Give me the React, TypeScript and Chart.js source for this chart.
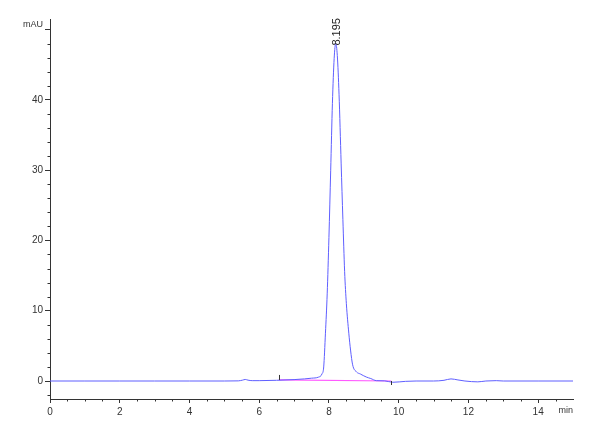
import React, { useEffect, useRef } from "react";
import { Chart, registerables } from "chart.js";

Chart.register(...registerables);

// Retention time (min) and absorbance (mAU) of the trace
const times = [
  0, 1, 2, 3, 4, 5, 5.4, 5.52, 5.6, 5.68, 5.8, 6.0, 6.5, 7.0, 7.3, 7.5, 7.7, 7.8,
  7.85, 7.9, 7.95, 8.0, 8.05, 8.1, 8.15, 8.195, 8.24, 8.29, 8.35, 8.4, 8.45, 8.5,
  8.57, 8.62, 8.68, 8.79, 8.9, 9.07, 9.2, 9.36, 9.6, 9.83, 10.2, 10.5, 11.0, 11.3,
  11.5, 11.7, 11.9, 12.27, 12.5, 12.8, 13, 14, 15,
];
const signal = [
  0, 0, 0, 0, 0, 0, 0.02, 0.12, 0.22, 0.12, 0.05, 0.05, 0.1, 0.2, 0.3, 0.4, 0.55, 1.0,
  2.0, 6.8, 12.4, 20.4, 29.9, 39.5, 45.9, 48.0, 46.3, 40.8, 31.0, 23.0, 15.6, 11.0,
  6.8, 4.4, 2.3, 1.3, 1.0, 0.57, 0.35, 0.05, 0.02, -0.18, -0.05, 0, 0, 0.1,
  0.3, 0.15, 0, -0.12, 0, 0.05, 0, 0, 0,
];

// Integration baseline of the main peak
const baseTimes = [6.56, 9.79];
const baseValues = [0.15, 0.0];

const peakTime = 8.195;
const peakHeight = 48.0;
const peakLabel = "8.195";

const xMajorTicks = [0, 2, 4, 6, 8, 10, 12, 14];
const yMajorTicks = [0, 10, 20, 30, 40, 50];
const yLabelled = [0, 10, 20, 30, 40];
const xUnit = "min";
const yUnit = "mAU";

const TICK_FONT = "'Liberation Sans Narrow', 'Liberation Sans', Arial, sans-serif";
const AXIS_COLOR = "#333333";

const overlay = {
  id: "overlay",
  afterDraw(chart: any) {
    const ctx = chart.ctx;
    const xs = chart.scales.x;
    const ys = chart.scales.y;
    ctx.save();
    ctx.strokeStyle = AXIS_COLOR;
    ctx.lineWidth = 1;
    // minor ticks x
    for (let v = 0.5; v < 15; v += 0.5) {
      if (Math.abs(v % 2) < 1e-6) continue;
      const px = Math.round(xs.getPixelForValue(v)) + 0.5;
      ctx.beginPath();
      ctx.moveTo(px, xs.top);
      ctx.lineTo(px, xs.top + 2.5);
      ctx.stroke();
    }
    // minor ticks y
    for (let v = -2; v <= 50; v += 2) {
      if (v % 10 === 0) continue;
      const py = Math.round(ys.getPixelForValue(v)) + 0.5;
      ctx.beginPath();
      ctx.moveTo(ys.right, py);
      ctx.lineTo(ys.right - 2.5, py);
      ctx.stroke();
    }
    // integration markers
    const sx = Math.round(xs.getPixelForValue(baseTimes[0])) + 0.5;
    const sy = ys.getPixelForValue(baseValues[0]);
    ctx.beginPath();
    ctx.moveTo(sx, sy);
    ctx.lineTo(sx, sy - 5);
    ctx.stroke();
    const ex = Math.round(xs.getPixelForValue(baseTimes[1])) + 0.5;
    const ey = ys.getPixelForValue(baseValues[1]);
    ctx.beginPath();
    ctx.moveTo(ex, ey);
    ctx.lineTo(ex, ey + 4);
    ctx.stroke();

    // unit labels
    ctx.fillStyle = AXIS_COLOR;
    ctx.font = `9px ${TICK_FONT}`;
    ctx.textAlign = "right";
    ctx.textBaseline = "middle";
    ctx.fillText(yUnit, ys.right - 7, ys.getPixelForValue(50) - 5);
    ctx.fillText(xUnit, xs.right, xs.top + 12);

    // peak label
    const lx = xs.getPixelForValue(peakTime) + 1;
    const ly = ys.getPixelForValue(peakHeight) + 2;
    ctx.translate(lx, ly);
    ctx.rotate(-Math.PI / 2);
    ctx.font = "11px 'Liberation Sans', Arial, sans-serif";
    ctx.fillStyle = "#222222";
    ctx.textAlign = "left";
    ctx.textBaseline = "middle";
    ctx.fillText(peakLabel, 0, 0);
    ctx.restore();
  },
};

const whiteBg = {
  id: "whiteBg",
  beforeDraw(chart: any) {
    const ctx = chart.ctx;
    ctx.save();
    ctx.fillStyle = "#ffffff";
    ctx.fillRect(0, 0, chart.width, chart.height);
    ctx.restore();
  },
};

export default function App() {
  const ref = useRef<HTMLCanvasElement | null>(null);
  useEffect(() => {
    if (!ref.current) return;
    const chart = new Chart(ref.current, {
      type: "line",
      data: {
        datasets: [
          {
            data: times.map((t, i) => ({ x: t, y: signal[i] })),
            borderColor: "rgb(95,95,255)",
            borderWidth: 1,
            pointRadius: 0,
            cubicInterpolationMode: "monotone",
            fill: false,
          },
          {
            data: baseTimes.map((t, i) => ({ x: t, y: baseValues[i] })),
            borderColor: "rgb(255,90,255)",
            borderWidth: 1.2,
            pointRadius: 0,
            fill: false,
          },
        ],
      },
      plugins: [whiteBg, overlay],
      options: {
        animation: false,
        responsive: false,
        devicePixelRatio: 1,
        layout: { padding: { left: 0, top: 19, right: 27, bottom: 0 } },
        plugins: { legend: { display: false }, tooltip: { enabled: false } },
        scales: {
          x: {
            type: "linear",
            min: 0,
            max: 15,
            afterFit: (s: any) => {
              s.height = 41;
            },
            afterBuildTicks: (s: any) => {
              s.ticks = xMajorTicks.map((v) => ({ value: v }));
            },
            grid: {
              drawOnChartArea: false,
              drawTicks: true,
              tickLength: 4,
              color: AXIS_COLOR,
            },
            border: { display: true, color: AXIS_COLOR, width: 1 },
            ticks: {
              padding: 3,
              color: AXIS_COLOR,
              maxRotation: 0,
              autoSkip: false,
              font: { family: TICK_FONT, size: 10 },
              callback: (v: any) => String(v),
            },
          },
          y: {
            type: "linear",
            min: -2.56,
            max: 51.5,
            afterFit: (s: any) => {
              s.width = 50;
            },
            afterBuildTicks: (s: any) => {
              s.ticks = yMajorTicks.map((v) => ({ value: v }));
            },
            grid: {
              drawOnChartArea: false,
              drawTicks: true,
              tickLength: 5,
              color: AXIS_COLOR,
            },
            border: { display: true, color: AXIS_COLOR, width: 1 },
            ticks: {
              padding: 2,
              color: AXIS_COLOR,
              autoSkip: false,
              font: { family: TICK_FONT, size: 10 },
              callback: (v: any) => (yLabelled.includes(Number(v)) ? String(v) : ""),
            },
          },
        },
      },
    } as any);
    return () => chart.destroy();
  }, []);
  return (
    <div style={{ position: "fixed", left: 0, top: 0, width: 600, height: 440, background: "#fff" }}>
      <canvas ref={ref} width={600} height={440} style={{ width: 600, height: 440, display: "block" }} />
    </div>
  );
}
